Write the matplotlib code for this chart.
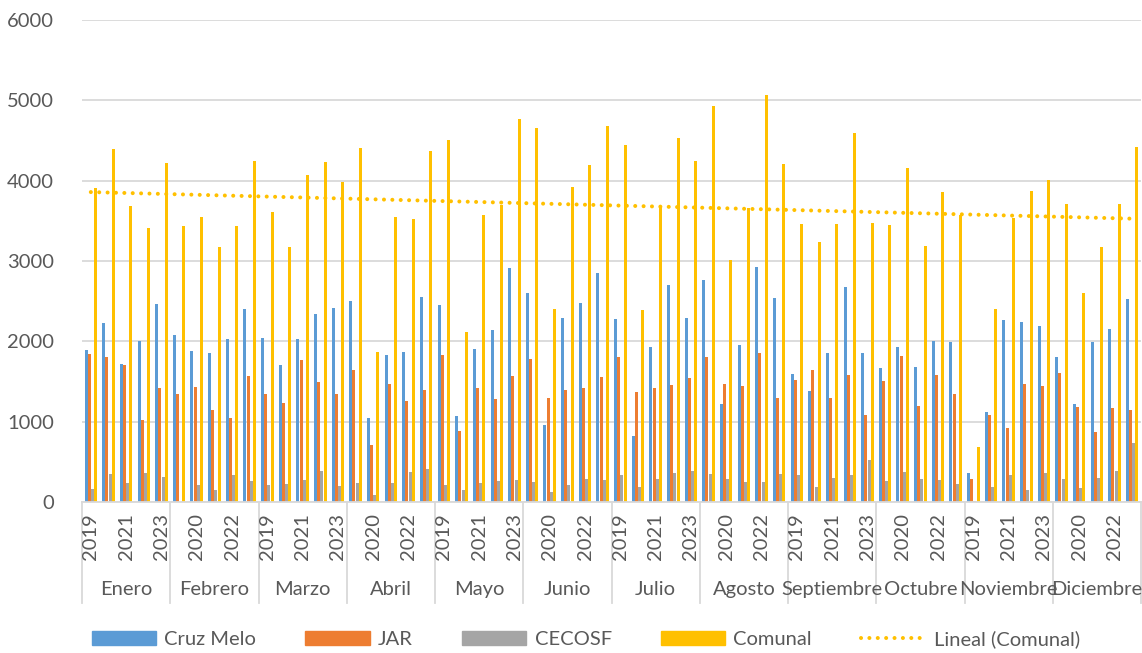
import matplotlib.pyplot as plt
import numpy as np
from matplotlib.patches import Patch
from matplotlib.lines import Line2D
from matplotlib.transforms import blended_transform_factory

plt.rcParams['font.family'] = ['Lato', 'DejaVu Sans']

meses = ["Enero", "Febrero", "Marzo", "Abril", "Mayo", "Junio", "Julio",
         "Agosto", "Septiembre", "Octubre", "Noviembre", "Diciembre"]
anios = ["2019", "2020", "2021", "2022", "2023"]

# 2019..2023 por mes
cruz_melo = [
    1890, 2225, 1720, 2010, 2470,
    2085, 1885, 1860, 2025, 2405,
    2040, 1705, 2025, 2335, 2410,
    2505, 1050, 1825, 1870, 2550,
    2450, 1070, 1905, 2140, 2910,
    2600, 955, 2285, 2475, 2850,
    2280, 820, 1930, 2700, 2295,
    2760, 1225, 1950, 2930, 2540,
    1590, 1380, 1860, 2675, 1855,
    1665, 1935, 1685, 2010, 1990,
    360, 1115, 2265, 2240, 2195,
    1800, 1220, 1990, 2150, 2525,
]
jar = [
    1840, 1805, 1705, 1020, 1420,
    1345, 1430, 1150, 1045, 1565,
    1345, 1230, 1765, 1490, 1350,
    1645, 705, 1465, 1255, 1395,
    1830, 880, 1420, 1280, 1565,
    1775, 1300, 1395, 1420, 1555,
    1805, 1365, 1415, 1455, 1540,
    1810, 1475, 1440, 1860, 1295,
    1515, 1645, 1295, 1575, 1080,
    1505, 1820, 1195, 1575, 1345,
    285, 1080, 920, 1465, 1440,
    1600, 1185, 870, 1165, 1145,
]
cecosf = [
    160, 345, 240, 355, 310,
    0, 215, 145, 340, 265,
    215, 220, 270, 380, 200,
    235, 85, 235, 370, 405,
    210, 145, 235, 260, 280,
    255, 120, 210, 285, 270,
    340, 185, 290, 355, 380,
    345, 285, 250, 255, 345,
    335, 190, 300, 335, 520,
    260, 375, 285, 270, 230,
    10, 190, 340, 145, 355,
    285, 180, 300, 390, 735,
]
comunal = [
    3910, 4400, 3685, 3405, 4220,
    3440, 3550, 3180, 3435, 4250,
    3615, 3180, 4075, 4230, 3985,
    4410, 1865, 3550, 3520, 4370,
    4510, 2115, 3575, 3700, 4770,
    4650, 2400, 3915, 4200, 4685,
    4445, 2390, 3680, 4530, 4240,
    4935, 3010, 3660, 5070, 4205,
    3455, 3240, 3465, 4595, 3475,
    3445, 4155, 3190, 3865, 3575,
    680, 2405, 3540, 3875, 4010,
    3710, 2600, 3175, 3710, 4420,
]

series = [("Cruz Melo", cruz_melo, "#5B9BD5"),
          ("JAR", jar, "#ED7D31"),
          ("CECOSF", cecosf, "#A5A5A5"),
          ("Comunal", comunal, "#FFC000")]

txt = "#595959"
grid = "#d9d9d9"
W, H = 1142, 653

fig = plt.figure(figsize=(W / 100, H / 100), dpi=100)
ax = fig.add_axes([82 / W, 1 - 502 / H, (1141 - 82) / W, (502 - 20) / H])

n = len(cruz_melo)
x = np.arange(n)
step = 0.18
for k, (name, vals, col) in enumerate(series):
    ax.bar(x + (k - 1.5) * step, vals, width=0.17, color=col, zorder=2)

# linea de tendencia lineal (Comunal)
coef = np.polyfit(x + 1, comunal, 1)
dots = (0, (0.01, 2.07))
ax.plot(x, np.polyval(coef, x + 1), color="#FFC000", lw=2.9, linestyle=dots,
        dash_capstyle="round", zorder=3)

ax.set_xlim(-0.5, n - 0.5)
ax.set_ylim(0, 6000)
ax.set_yticks(range(0, 7000, 1000))
ax.yaxis.grid(True, color=grid, lw=1.3)
ax.set_axisbelow(True)
ax.set_xticks([])
ax.tick_params(axis="y", length=0, pad=20, labelsize=14.5, labelcolor=txt)
for s in ["top", "right", "left"]:
    ax.spines[s].set_visible(False)
ax.spines["bottom"].set_color(grid)
ax.spines["bottom"].set_linewidth(1.3)

# eje de categorias en dos niveles
tr = blended_transform_factory(ax.transData, ax.transAxes)
for i in range(0, n, 2):
    ax.text(i, -0.0726, anios[i % 5], rotation=90, ha="center", va="center",
            fontsize=14.5, color=txt, transform=tr)
for m, mes in enumerate(meses):
    ax.text(m * 5 + 2, -0.182, mes, ha="center", va="center",
            fontsize=14.5, color=txt, transform=tr)
for b in np.arange(-0.5, n, 5):
    ax.axvline(b, ymin=-0.2095, ymax=0, color=grid, lw=1.3, clip_on=False)

handles = [Patch(color=c) for _, _, c in series]
handles.append(Line2D([], [], color="#FFC000", lw=2.9, linestyle=dots,
                      dash_capstyle="round"))
labels = [s[0] for s in series] + ["Lineal (Comunal)"]
fig.legend(handles, labels, ncol=5, loc="center",
           bbox_to_anchor=(0.513, 1 - 639 / H), frameon=False,
           fontsize=14.5, labelcolor=txt, handlelength=3.2, handleheight=0.7,
           handletextpad=0.4, columnspacing=2.45)

fig.savefig("out.png", dpi=100)
